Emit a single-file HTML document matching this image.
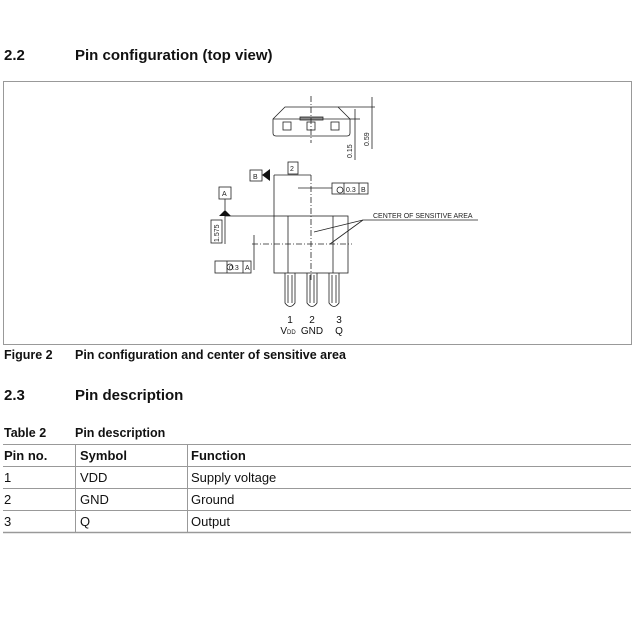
<!DOCTYPE html>
<html><head><style>
body{margin:0;width:640px;height:640px;background:#fff;overflow:hidden;font-family:"Liberation Sans",sans-serif;}
svg{position:absolute;left:0;top:0}
.b{font-weight:bold;}
</style></head><body>
<svg width="640" height="640" viewBox="0 0 640 640" xmlns="http://www.w3.org/2000/svg" font-family="Liberation Sans, sans-serif">
<text x="4" y="60" font-size="15" font-weight="bold" fill="#111">2.2</text>
<text x="75" y="60" font-size="15" font-weight="bold" fill="#111">Pin configuration (top view)</text>
<rect x="3.5" y="81.5" width="628" height="263" fill="none" stroke="#999" stroke-width="1"/>
<g stroke="#222" stroke-width="0.8" fill="none">
<!-- side view -->
<path d="M273 119 L285 107 L338 107 L350 119 L350 133 Q350 136 347 136 L276 136 Q273 136 273 133 Z"/>
<line x1="273" y1="119" x2="350" y2="119"/>
<rect x="283" y="122" width="8" height="8"/><rect x="307" y="122" width="8" height="8"/><rect x="331" y="122" width="8" height="8"/>
<rect x="300" y="117" width="23" height="3" fill="#888"/>
<line x1="311" y1="96" x2="311" y2="143" stroke-dasharray="6,2,1,2"/>
<line x1="338" y1="107" x2="375" y2="107"/><line x1="350" y1="119" x2="360" y2="119"/>
<line x1="372" y1="97" x2="372" y2="149"/><line x1="355" y1="109" x2="355" y2="160"/>
<!-- body -->
<rect x="274" y="216" width="74" height="57"/>
<line x1="288" y1="216" x2="288" y2="273"/><line x1="333" y1="216" x2="333" y2="273"/>
<line x1="311" y1="175" x2="311" y2="280" stroke-dasharray="6,2,1,2"/>
<line x1="252" y1="244" x2="352" y2="244" stroke-dasharray="6,2,1,2"/>
<!-- pins -->
<path d="M285 273 L285 303 Q290 310 295 303 L295 273"/><path d="M288 275 L288 303 M292 275 L292 303"/>
<path d="M307 273 L307 303 Q312 310 317 303 L317 273"/><path d="M310 275 L310 303 M314 275 L314 303"/>
<path d="M329 273 L329 303 Q334 310 339 303 L339 273"/><path d="M332 275 L332 303 M336 275 L336 303"/>
<!-- datum B -->
<line x1="274" y1="175" x2="274" y2="216"/>
<line x1="274" y1="175" x2="311" y2="175"/>
<rect x="250" y="170" width="12" height="11"/>
<rect x="288" y="162" width="10" height="12"/>
<line x1="298" y1="188" x2="332" y2="188"/>
<rect x="332" y="183" width="36" height="11"/><line x1="344" y1="183" x2="344" y2="194"/><line x1="359" y1="183" x2="359" y2="194"/>
<!-- datum A -->
<line x1="225" y1="216" x2="274" y2="216"/>
<line x1="225" y1="216" x2="225" y2="244"/>
<rect x="219" y="187" width="12" height="12"/>
<line x1="225" y1="199" x2="225" y2="210"/>
<rect x="211" y="220" width="11" height="23"/>
<line x1="254" y1="235" x2="254" y2="270"/>
<rect x="215" y="261" width="36" height="12"/><line x1="227" y1="261" x2="227" y2="273"/><line x1="243" y1="261" x2="243" y2="273"/>
<!-- leader -->
<line x1="363" y1="220" x2="478" y2="220"/>
<line x1="363" y1="220" x2="314" y2="232"/><line x1="363" y1="220" x2="330" y2="244"/>
<circle cx="340" cy="190" r="3"/><circle cx="230" cy="267" r="3"/>
</g>
<polygon points="262,175 270,169 270,181" fill="#111"/>
<polygon points="219,216 231,216 225,210" fill="#111"/>
<g font-size="7" fill="#222">
<text x="253" y="179">B</text><text x="222" y="196">A</text><text x="290" y="171">2</text>
<text x="346" y="192">0.3</text><text x="361" y="192">B</text>
<text x="229" y="270">0.3</text><text x="245" y="270">A</text>
<text x="373" y="218" font-size="7">CENTER OF SENSITIVE AREA</text>
<text transform="translate(219,242) rotate(-90)">1.575</text>
<text transform="translate(352,158) rotate(-90)">0.15</text>
<text transform="translate(369,146) rotate(-90)">0.59</text>
</g>
<g font-size="10" fill="#111" text-anchor="middle">
<text x="290" y="323">1</text><text x="312" y="323">2</text><text x="339" y="323">3</text>
<text x="288" y="334">V<tspan font-size="6">DD</tspan></text><text x="312" y="334">GND</text><text x="339" y="334">Q</text>
</g>
<text x="4" y="359" font-size="12.5" font-weight="bold" fill="#111">Figure 2</text>
<text x="75" y="359" font-size="12.5" font-weight="bold" fill="#111">Pin configuration and center of sensitive area</text>
<text x="4" y="400" font-size="15" font-weight="bold" fill="#111">2.3</text>
<text x="75" y="400" font-size="15" font-weight="bold" fill="#111">Pin description</text>
<text x="4" y="437" font-size="12.5" font-weight="bold" fill="#111">Table 2</text>
<text x="75" y="437" font-size="12.5" font-weight="bold" fill="#111">Pin description</text>
<g stroke="#999" stroke-width="1">
<line x1="3" y1="444.5" x2="631" y2="444.5"/><line x1="3" y1="466.5" x2="631" y2="466.5"/>
<line x1="3" y1="488.5" x2="631" y2="488.5"/><line x1="3" y1="510.5" x2="631" y2="510.5"/>
<line x1="3" y1="532.5" x2="631" y2="532.5" stroke-width="1.5"/>
<line x1="75.5" y1="444" x2="75.5" y2="532"/><line x1="187.5" y1="444" x2="187.5" y2="532"/>
</g>
<g font-size="13" fill="#111">
<text x="4" y="460" font-weight="bold">Pin no.</text><text x="80" y="460" font-weight="bold">Symbol</text><text x="191" y="460" font-weight="bold">Function</text>
<text x="4" y="482">1</text><text x="80" y="482">VDD</text><text x="191" y="482">Supply voltage</text>
<text x="4" y="504">2</text><text x="80" y="504">GND</text><text x="191" y="504">Ground</text>
<text x="4" y="526">3</text><text x="80" y="526">Q</text><text x="191" y="526">Output</text>
</g>
</svg>
</body></html>
